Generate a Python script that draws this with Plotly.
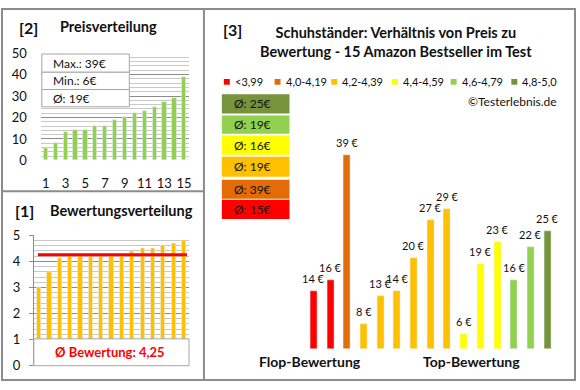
import plotly.graph_objects as go

W, H = 580, 390
FONT = "Lato"
TXT = "#111111"

# ---------------- data ----------------
rank = list(range(1, 16))
prices_sorted = [6, 8, 13, 14, 14, 16, 16, 19, 20, 22, 23, 25, 27, 29, 39]
price_box_labels = ["Max.: 39€", "Min.: 6€", "Ø: 19€"]

ratings_sorted = [3.0, 3.6, 4.1, 4.2, 4.2, 4.2, 4.2, 4.2, 4.2, 4.4, 4.5, 4.5, 4.6, 4.7, 4.8]
rating_avg = 4.25
rating_avg_label = "Ø Bewertung: 4,25"

products = list(range(1, 16))
product_prices = [14, 16, 39, 8, 13, 14, 20, 27, 29, 6, 19, 23, 16, 22, 25]
product_class = [0, 0, 1, 2, 2, 2, 2, 2, 2, 3, 3, 3, 4, 4, 5]

class_labels = ["<3,99", "4,0-4,19", "4,2-4,39", "4,4-4,59", "4,6-4,79", "4,8-5,0"]
class_colors = ["#FF0000", "#E36C09", "#FFC000", "#FFFF00", "#92D050", "#77933C"]
class_avg_labels = ["Ø: 15€", "Ø: 39€", "Ø: 19€", "Ø: 16€", "Ø: 19€", "Ø: 25€"]

title_main = "Schuhständer: Verhältnis von Preis zu<br>Bewertung - 15 Amazon Bestseller im Test"


def px(x):
    return x / W


def py(y):
    return 1 - y / H


fig = go.Figure()

# [2] price distribution
fig.add_trace(go.Bar(x=rank, y=prices_sorted, marker_color="#92D050", width=0.43,
                     xaxis="x", yaxis="y", showlegend=False, hoverinfo="skip"))
# [1] rating distribution
fig.add_trace(go.Bar(x=rank, y=ratings_sorted, marker_color="#FFC000", width=0.41,
                     xaxis="x2", yaxis="y2", showlegend=False, hoverinfo="skip"))
# [3] price vs rating
fig.add_trace(go.Bar(x=products, y=product_prices,
                     marker_color=[class_colors[c] for c in product_class], width=0.42,
                     xaxis="x3", yaxis="y3", showlegend=False, hoverinfo="skip"))

shapes = []
annotations = []

# frame
line_col = "#8C8C8C"
shapes += [
    dict(type="rect", xref="paper", yref="paper", x0=px(2), x1=px(578), y0=py(388), y1=py(1),
         line=dict(color=line_col, width=2)),
    dict(type="line", xref="paper", yref="paper", x0=px(205), x1=px(205), y0=py(388), y1=py(1),
         line=dict(color=line_col, width=2)),
    dict(type="line", xref="paper", yref="paper", x0=px(2), x1=px(205), y0=py(191), y1=py(191),
         line=dict(color=line_col, width=2)),
]

# price info box
box_rows = [(48, 67), (67, 85), (85, 103)]
for (t, b), lab in zip(box_rows, price_box_labels):
    shapes.append(dict(type="rect", xref="paper", yref="paper", x0=px(42), x1=px(130),
                       y0=py(b), y1=py(t), fillcolor="white",
                       line=dict(color="#A6A6A6", width=1), layer="above"))
    annotations.append(dict(text=lab, xref="paper", yref="paper", x=px(51), y=py((t + b) / 2),
                            xanchor="left", yanchor="middle", showarrow=False,
                            font=dict(family=FONT, size=12, color=TXT)))

# average rating line
shapes.append(dict(type="line", xref="x2", yref="y2", x0=0.9, x1=15.3, y0=rating_avg, y1=rating_avg,
                   line=dict(color="#FF0000", width=3), layer="above"))
# rating box
shapes.append(dict(type="rect", xref="paper", yref="paper", x0=px(34), x1=px(190),
                   y0=py(373), y1=py(345), fillcolor="white",
                   line=dict(color="#A6A6A6", width=1), layer="above"))
annotations.append(dict(text="<b>" + rating_avg_label + "</b>", xref="paper", yref="paper",
                        x=px(111), y=py(359), xanchor="center", yanchor="middle", showarrow=False,
                        font=dict(family=FONT, size=13, color="#FF0000")))

# panel titles
annotations += [
    dict(text="<b>[2]</b>", xref="paper", yref="paper", x=px(17), y=py(20), xanchor="left",
         yanchor="middle", showarrow=False, font=dict(family=FONT, size=16, color=TXT)),
    dict(text="<b>Preisverteilung</b>", xref="paper", yref="paper", x=px(58), y=py(19),
         xanchor="left", yanchor="middle", showarrow=False, font=dict(family=FONT, size=14.5, color=TXT)),
    dict(text="<b>[1]</b>", xref="paper", yref="paper", x=px(13), y=py(211), xanchor="left",
         yanchor="middle", showarrow=False, font=dict(family=FONT, size=16, color=TXT)),
    dict(text="<b>Bewertungsverteilung</b>", xref="paper", yref="paper", x=px(48), y=py(211),
         xanchor="left", yanchor="middle", showarrow=False, font=dict(family=FONT, size=14.5, color=TXT)),
    dict(text="<b>[3]</b>", xref="paper", yref="paper", x=px(222), y=py(22), xanchor="left",
         yanchor="middle", showarrow=False, font=dict(family=FONT, size=16, color=TXT)),
    dict(text="<b>" + title_main + "</b>", xref="paper", yref="paper", x=px(398), y=py(35),
         xanchor="center", yanchor="middle", showarrow=False, align="center",
         font=dict(family=FONT, size=14.5, color=TXT)),
    dict(text="©Testerlebnis.de", xref="paper", yref="paper", x=px(562), y=py(98),
         xanchor="right", yanchor="middle", showarrow=False, font=dict(family=FONT, size=12, color=TXT)),
    dict(text="<b>Flop-Bewertung</b>", xref="paper", yref="paper", x=px(312), y=py(369),
         xanchor="center", yanchor="middle", showarrow=False, font=dict(family=FONT, size=14, color=TXT)),
    dict(text="<b>Top-Bewertung</b>", xref="paper", yref="paper", x=px(474), y=py(369),
         xanchor="center", yanchor="middle", showarrow=False, font=dict(family=FONT, size=14, color=TXT)),
]

# legend row
leg_x = [225, 276, 333, 394, 453, 514]
for xx, lab, col in zip(leg_x, class_labels, class_colors):
    shapes.append(dict(type="rect", xref="paper", yref="paper", x0=px(xx), x1=px(xx + 6),
                       y0=py(80), y1=py(74), fillcolor=col, line=dict(width=0)))
    annotations.append(dict(text=lab, xref="paper", yref="paper", x=px(xx + 9), y=py(77),
                            xanchor="left", yanchor="middle", showarrow=False,
                            font=dict(family=FONT, size=11, color=TXT)))

# class average boxes (top: best class)
box_y = [(200, 220), (179, 199), (155, 176), (133, 153), (112, 131), (90, 110)]
for (t, b), lab, col in zip(box_y, class_avg_labels, class_colors):
    shapes.append(dict(type="rect", xref="paper", yref="paper", x0=px(223), x1=px(291),
                       y0=py(b), y1=py(t), fillcolor=col, line=dict(width=0)))
    annotations.append(dict(text=lab, xref="paper", yref="paper", x=px(233), y=py((t + b) / 2),
                            xanchor="left", yanchor="middle", showarrow=False,
                            font=dict(family=FONT, size=12, color=TXT)))

# bar value labels
for xv, yv in zip(products, product_prices):
    annotations.append(dict(text=f"{yv} €", xref="x3", yref="y3", x=xv, y=yv,
                            xanchor="center", yanchor="bottom", yshift=4, showarrow=False,
                            font=dict(family=FONT, size=11, color=TXT)))

axfont = dict(family=FONT, size=13, color=TXT)

fig.update_layout(
    width=W, height=H, margin=dict(l=0, r=0, t=0, b=0),
    paper_bgcolor="white", plot_bgcolor="white",
    shapes=shapes, annotations=annotations, bargap=0,
    xaxis=dict(domain=[px(41), px(190)], range=[0.5, 15.5], anchor="y",
               tickvals=rank[::2], ticktext=[str(v) for v in rank[::2]],
               ticks="", showline=False, showgrid=False, zeroline=False,
               tickfont=axfont, ticklabelstandoff=14, fixedrange=True),
    yaxis=dict(domain=[py(159), py(47)], range=[0, 50], anchor="x", dtick=10,
               showgrid=True, gridcolor="#8C8C8C", gridwidth=1,
               minor=dict(dtick=2, showgrid=True, gridcolor="#C8C8C8", gridwidth=1),
               zeroline=False, showline=False, ticks="",
               tickfont=axfont, ticklabelstandoff=13),
    xaxis2=dict(domain=[px(34), px(190)], range=[0.5, 15.5], anchor="y2",
                showticklabels=False, ticks="", showgrid=False, zeroline=False, showline=False),
    yaxis2=dict(domain=[py(373), py(237)], range=[0, 5], anchor="x2", dtick=1,
                showgrid=True, gridcolor="#8C8C8C", gridwidth=1,
                minor=dict(dtick=0.2, showgrid=True, gridcolor="#C8C8C8", gridwidth=1),
                zeroline=False, showline=True, linecolor="#8C8C8C", linewidth=1,
                ticks="outside", ticklen=4, tickcolor="#8C8C8C",
                tickfont=axfont, ticklabelstandoff=6),
    xaxis3=dict(domain=[px(306.9), px(558.7)], range=[0.5, 15.5], anchor="y3",
                visible=False),
    yaxis3=dict(domain=[py(355), py(120)], range=[3.44, 44.81], anchor="x3",
                visible=False),
)

fig.write_html("out.html", config={"displayModeBar": False},
               post_script="document.body.style.margin='0';document.body.style.overflow='hidden';")
